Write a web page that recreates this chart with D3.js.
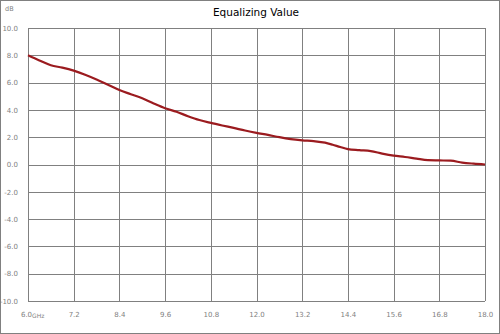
<!DOCTYPE html>
<html>
<head>
<meta charset="utf-8">
<script src="https://cdn.jsdelivr.net/npm/d3@7"></script>
<style>
  body { margin: 0; background: #fff; }
  svg { display: block; }
  .tick text { font-family: "DejaVu Sans", sans-serif; font-size: 7px; fill: #7f7f7f; }
</style>
</head>
<body>
<div id="chart"></div>
<script>
// frequency in GHz
const freqs = [6.0, 6.3, 6.6, 6.9, 7.2, 7.5, 7.8, 8.1, 8.4, 8.7, 9.0, 9.3, 9.6, 9.9, 10.2, 10.5,
    10.8, 11.1, 11.4, 11.7, 12.0, 12.3, 12.6, 12.9, 13.2, 13.5, 13.8, 14.0, 14.2, 14.4, 14.7,
    15.0, 15.3, 15.6, 15.9, 16.2, 16.5, 16.8, 17.1, 17.4, 17.7, 18.0];
// equalizing value in dB
const values = [8.0, 7.62, 7.27, 7.1, 6.88, 6.58, 6.23, 5.84, 5.45, 5.15, 4.85, 4.47, 4.12, 3.86,
    3.54, 3.26, 3.05, 2.86, 2.68, 2.49, 2.32, 2.17, 2.0, 1.86, 1.77, 1.71, 1.6, 1.45, 1.28,
    1.13, 1.05, 0.98, 0.8, 0.65, 0.55, 0.43, 0.32, 0.3, 0.28, 0.14, 0.06, 0.0];
const xTicks = [6.0, 7.2, 8.4, 9.6, 10.8, 12.0, 13.2, 14.4, 15.6, 16.8, 18.0];
const yTicks = [10, 8, 6, 4, 2, 0, -2, -4, -6, -8, -10];

const width = 500, height = 334;
const plotLeft = 28, plotRight = 485, plotTop = 28, plotBottom = 301;

const svg = d3.select("#chart").append("svg")
    .attr("width", width)
    .attr("height", height);

// outer frame
svg.append("rect")
    .attr("x", 0.5).attr("y", 0.5)
    .attr("width", width - 1).attr("height", height - 1)
    .style("fill", "#fff")
    .style("stroke", "#808080");

const x = d3.scaleLinear().domain([6, 18]).range([plotLeft, plotRight]);
const y = d3.scaleLinear().domain([-10, 10]).range([plotBottom, plotTop]);

// grid
const grid = svg.append("g");
grid.selectAll(".vgrid")
    .data(xTicks)
    .enter().append("line")
    .attr("x1", d => Math.round(x(d)) + 0.5)
    .attr("x2", d => Math.round(x(d)) + 0.5)
    .attr("y1", plotTop).attr("y2", plotBottom)
    .style("stroke", "#808080").style("stroke-width", "1px");
grid.selectAll(".hgrid")
    .data(yTicks)
    .enter().append("line")
    .attr("x1", plotLeft).attr("x2", plotRight)
    .attr("y1", d => Math.round(y(d)) + 0.5)
    .attr("y2", d => Math.round(y(d)) + 0.5)
    .style("stroke", "#808080").style("stroke-width", "1px");

// axes (labels only)
const xAxis = svg.append("g")
    .attr("transform", `translate(0,${plotBottom + 8})`)
    .call(d3.axisBottom(x).tickValues(xTicks).tickSize(0).tickFormat(d => d.toFixed(1)));
xAxis.select(".domain").remove();
xAxis.selectAll(".tick").filter(d => d === 6).select("text").attr("dx", "-2");

svg.append("text")
    .attr("x", x(6) + 4)
    .attr("y", plotBottom + 17)
    .style("font-family", "DejaVu Sans, sans-serif")
    .style("font-size", "6px")
    .style("fill", "#7f7f7f")
    .text("GHz");

const yAxis = svg.append("g")
    .attr("transform", `translate(${plotLeft - 7},0)`)
    .call(d3.axisLeft(y).tickValues(yTicks).tickSize(0).tickFormat(d => d.toFixed(1)));
yAxis.select(".domain").remove();

svg.append("text")
    .attr("x", 5).attr("y", 11)
    .style("font-family", "DejaVu Sans, sans-serif")
    .style("font-size", "6.5px")
    .style("fill", "#7f7f7f")
    .text("dB");

svg.append("text")
    .attr("x", 256).attr("y", 16)
    .attr("text-anchor", "middle")
    .style("font-family", "DejaVu Sans, sans-serif")
    .style("font-size", "10.5px")
    .style("fill", "#000")
    .text("Equalizing Value");

// curve
const line = d3.line()
    .x((d, i) => x(freqs[i]))
    .y(d => y(d))
    .curve(d3.curveMonotoneX);

svg.append("path")
    .datum(values)
    .attr("d", line)
    .style("fill", "none")
    .style("stroke", "#9b1b1f")
    .style("stroke-width", "2.2px");
</script>
</body>
</html>
